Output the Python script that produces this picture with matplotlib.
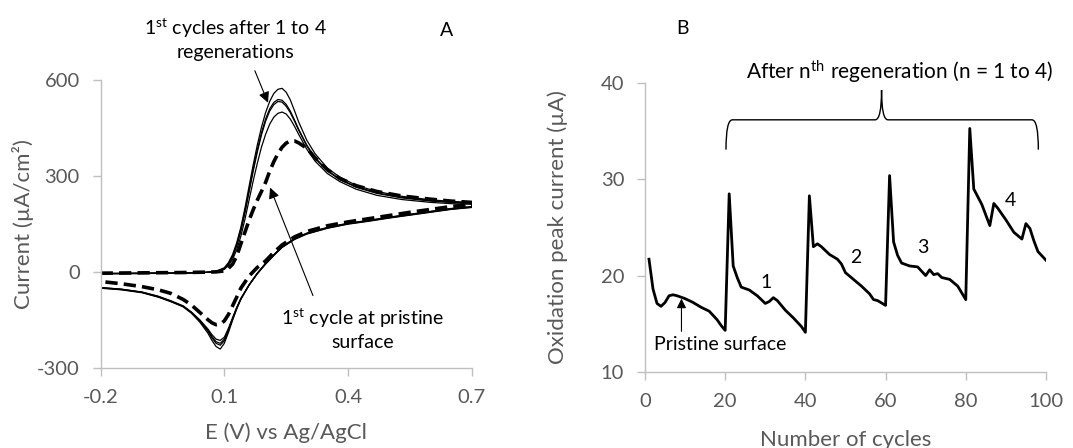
import matplotlib.pyplot as plt
from matplotlib.path import Path
from matplotlib.patches import PathPatch

plt.rcParams['font.family'] = ['Lato', 'DejaVu Sans']
plt.rcParams['mathtext.fontset'] = 'custom'
plt.rcParams['mathtext.rm'] = 'Lato'
plt.rcParams['mathtext.it'] = 'Lato:italic'
plt.rcParams['axes.unicode_minus'] = False

GREY = '#595959'
SPINE = '#bfbfbf'

# ---- panel A: cyclic voltammograms ----
e_fwd = [-0.2, -0.1, 0.0, 0.05, 0.08, 0.1, 0.11, 0.12, 0.13, 0.14, 0.15, 0.16, 0.17,
         0.18, 0.19, 0.2, 0.21, 0.22, 0.23, 0.24, 0.25, 0.26, 0.27, 0.28, 0.3, 0.32,
         0.35, 0.38, 0.42, 0.47, 0.53, 0.6, 0.65, 0.7]
e_rev = [0.7, 0.65, 0.6, 0.55, 0.5, 0.45, 0.4, 0.35, 0.3, 0.27, 0.24, 0.22, 0.2, 0.18,
         0.16, 0.14, 0.13, 0.12, 0.11, 0.1, 0.09, 0.08, 0.07, 0.06, 0.04, 0.02, 0.0,
         -0.03, -0.06, -0.1, -0.15, -0.2]

# regenerated surfaces (1st cycle after regeneration 1..4)
regen_fwd = [
    [-5, -4, -3, -1, 3, 14, 30, 55, 92, 140, 200, 268, 335, 397, 452, 498, 533, 558,
     571, 574, 562, 538, 505, 470, 412, 370, 325, 297, 271, 252, 237, 226, 221, 218],
    [-5, -4, -3, -1, 2, 12, 27, 50, 85, 132, 190, 256, 322, 382, 435, 478, 510, 530,
     539, 537, 524, 503, 476, 447, 397, 358, 318, 291, 267, 248, 234, 224, 219, 216],
    [-4, -3, -2, -1, 2, 11, 25, 47, 82, 128, 185, 250, 315, 375, 428, 471, 503, 523,
     533, 531, 518, 498, 472, 444, 394, 355, 316, 289, 265, 246, 232, 222, 218, 215],
    [-4, -3, -2, -1, 1, 9, 21, 40, 70, 112, 165, 225, 285, 340, 390, 430, 462, 484,
     496, 500, 494, 478, 456, 431, 384, 347, 308, 283, 259, 240, 227, 218, 214, 212],
]
regen_rev = [
    [205, 199, 190, 181, 172, 162, 153, 140, 122, 105, 80, 55, 28, -3, -40, -85, -115,
     -150, -188, -222, -240, -232, -213, -190, -155, -128, -108, -92, -78, -64, -55, -50],
    [204, 198, 189, 180, 171, 161, 152, 139, 121, 104, 79, 54, 27, -4, -40, -84, -113,
     -147, -183, -214, -228, -222, -205, -184, -152, -126, -107, -91, -77, -63, -54, -49],
    [203, 197, 188, 179, 170, 160, 151, 138, 120, 103, 78, 53, 26, -4, -40, -83, -112,
     -145, -180, -209, -222, -217, -201, -181, -150, -125, -106, -90, -76, -62, -53, -48],
    [202, 196, 187, 178, 169, 159, 150, 137, 119, 102, 77, 52, 25, -5, -40, -82, -110,
     -142, -175, -203, -213, -209, -195, -177, -148, -124, -105, -89, -75, -62, -53, -48],
]

# pristine surface (1st cycle)
pristine_fwd = [-3, -2, -1, 0, 1, 4, 12, 25, 50, 88, 125, 162, 195, 225, 252, 280, 315,
                345, 370, 390, 403, 410, 410, 404, 387, 357, 320, 293, 270, 252, 238,
                228, 222, 218]
pristine_rev = [212, 205, 196, 187, 177, 167, 157, 145, 127, 110, 85, 62, 35, 15, -12,
                -50, -78, -105, -132, -152, -162, -164, -158, -148, -125, -102, -85,
                -66, -55, -45, -36, -29]

# ---- panel B: oxidation peak current vs cycle ----
cycles = [1, 2, 3, 4, 5, 6, 7, 8, 10, 12, 14, 16, 18, 19, 20,
          21, 22, 23, 24, 26, 28, 30, 31, 32, 33, 35, 37, 39, 40,
          41, 42, 43, 44, 46, 48, 49, 50, 52, 54, 56, 57, 58, 60,
          61, 62, 63, 64, 66, 68, 70, 71, 72, 73, 74, 76, 78, 80,
          81, 82, 83, 84, 86, 87, 88, 90, 92, 94, 95, 96, 97, 98, 100]
peak_current = [21.7, 18.6, 17.1, 16.8, 17.2, 17.9, 18.0, 17.9, 17.6, 17.2, 16.7, 16.3, 15.4, 14.8, 14.3,
                28.5, 21.0, 19.8, 18.8, 18.5, 17.9, 17.1, 17.3, 17.7, 17.4, 16.4, 15.6, 14.7, 14.1,
                28.3, 23.0, 23.3, 23.0, 22.2, 21.7, 21.2, 20.3, 19.6, 18.9, 18.1, 17.5, 17.4, 16.9,
                30.4, 23.5, 22.1, 21.3, 21.0, 20.9, 20.0, 20.6, 20.1, 20.2, 19.8, 19.6, 18.9, 17.5,
                35.3, 29.0, 28.2, 27.4, 25.2, 27.5, 27.0, 25.8, 24.5, 23.8, 25.4, 24.9, 23.6, 22.5, 21.6]
regen_labels = ['1', '2', '3', '4']
regen_label_pos = [(30.3, 19.3), (52.6, 21.9), (69.4, 22.9), (91.2, 27.8)]

TICK_FS = 14.5
LABEL_FS = 16
NOTE_FS = 14


def style(ax):
    for s in ['top', 'right']:
        ax.spines[s].set_visible(False)
    for s in ['left', 'bottom']:
        ax.spines[s].set_color(SPINE)
        ax.spines[s].set_linewidth(1.0)
    ax.tick_params(colors=SPINE, labelcolor=GREY, labelsize=TICK_FS, length=6, width=1.0)
    ax.tick_params(axis='y', pad=9)
    ax.tick_params(axis='x', pad=9)


def arrow(ax, tail, tip, ms=16):
    ax.annotate('', xy=tip, xytext=tail, annotation_clip=False,
                arrowprops=dict(arrowstyle='-|>', color='black', lw=0.8,
                                mutation_scale=ms, shrinkA=0, shrinkB=0))


fig = plt.figure(figsize=(10.73, 4.48), dpi=100)
axA = fig.add_axes([0.0938, 0.1779, 0.3458, 0.6435])
axB = fig.add_axes([0.6011, 0.1703, 0.3737, 0.6438])

# panel A
for f, r in zip(regen_fwd, regen_rev):
    axA.plot(e_fwd + e_rev, f + r, color='black', lw=0.9)
axA.plot(e_fwd + e_rev, pristine_fwd + pristine_rev, color='black', lw=2.6,
         dashes=(3.4, 1.7))
axA.set_xlim(-0.2, 0.7)
axA.set_ylim(-300, 600)
axA.set_xticks([-0.2, 0.1, 0.4, 0.7])
axA.set_xticklabels(['-0.2', '0.1', '0.4', '0.7'])
axA.set_yticks([-300, 0, 300, 600])
style(axA)
axA.set_xlabel('E (V) vs Ag/AgCl', color=GREY, fontsize=LABEL_FS)
axA.set_ylabel('Current (µA/cm²)', color=GREY, fontsize=LABEL_FS)
axA.xaxis.label.set_va('center')
axA.yaxis.label.set_va('center')
axA.xaxis.set_label_coords(0.5, -0.225)
axA.yaxis.set_label_coords(-0.21, 0.5)

axA.text(0.126, 727, '1$^{\\rm st}$ cycles after 1 to 4\nregenerations', ha='center',
         va='center', fontsize=NOTE_FS, linespacing=1.3, clip_on=False)
arrow(axA, (0.174, 629), (0.206, 529))
axA.text(0.436, -177, '1$^{\\rm st}$ cycle at pristine\nsurface', ha='center',
         va='center', fontsize=NOTE_FS, linespacing=1.3)
arrow(axA, (0.315, -73), (0.211, 264))
fig.text(447 / 1073, 1 - 30 / 448, 'A', fontsize=NOTE_FS, ha='center', va='center')

# panel B
axB.plot(cycles, peak_current, color='black', lw=2.0, solid_joinstyle='round')
axB.set_xlim(0, 100)
axB.set_ylim(10, 40)
axB.set_xticks([0, 20, 40, 60, 80, 100])
axB.set_yticks([10, 20, 30, 40])
style(axB)
axB.set_xlabel('Number of cycles', color=GREY, fontsize=LABEL_FS)
axB.set_ylabel('Oxidation peak current (µA)', color=GREY, fontsize=LABEL_FS)
axB.xaxis.label.set_va('center')
axB.yaxis.label.set_va('center')
axB.xaxis.set_label_coords(0.5, -0.237)
axB.yaxis.set_label_coords(-0.217, 0.5)

for lab, (cx, cy) in zip(regen_labels, regen_label_pos):
    axB.text(cx, cy, lab, fontsize=NOTE_FS, ha='center', va='center')

axB.text(18.7, 12.8, 'Pristine surface', ha='center', va='center', fontsize=NOTE_FS)
arrow(axB, (9.1, 14.2), (9.1, 17.6), ms=14)

# curly bracket over the regenerated cycles
yb, yend, ytip = 36.2, 33.1, 39.3
verts = [(20.2, yend), (20.2, yb), (21.8, yb),
         (57.4, yb), (59.0, yb), (59.0, ytip),
         (59.0, yb), (60.6, yb),
         (96.5, yb), (98.1, yb), (98.1, yend)]
codes = [Path.MOVETO, Path.CURVE3, Path.CURVE3,
         Path.LINETO, Path.CURVE3, Path.CURVE3,
         Path.CURVE3, Path.CURVE3,
         Path.LINETO, Path.CURVE3, Path.CURVE3]
axB.add_patch(PathPatch(Path(verts, codes), fill=False, color='black', lw=1.0,
                        clip_on=False))
axB.text(63.6, 41.2, 'After n$^{\\rm th}$ regeneration (n = 1 to 4)', fontsize=15,
         ha='center', va='center', clip_on=False)
fig.text(683 / 1073, 1 - 28 / 448, 'B', fontsize=NOTE_FS, ha='center', va='center')

fig.savefig('out.png', dpi=100)
